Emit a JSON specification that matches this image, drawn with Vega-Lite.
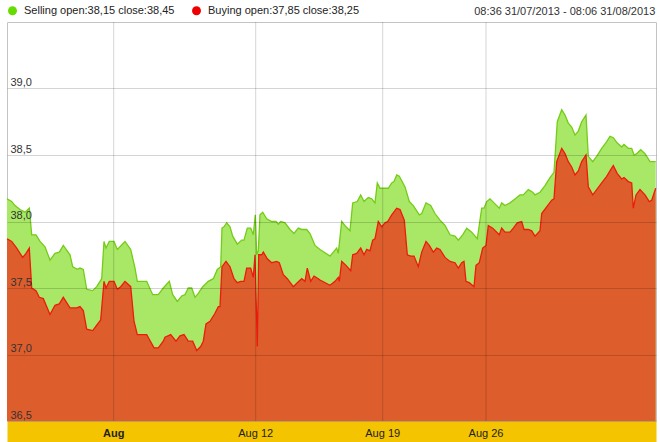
{
  "$schema": "https://vega.github.io/schema/vega-lite/v6.json",
  "width": 649,
  "height": 399,
  "autosize": {"type": "none"},
  "padding": {"left": 7, "top": 22, "right": 4, "bottom": 21},
  "background": "white",
  "config": {
    "view": {"stroke": "#c4c4c4", "strokeWidth": 1, "fill": "white"},
    "font": "Liberation Sans"
  },
  "title": {"text": "08:36 31/07/2013 - 08:06 31/08/2013", "anchor": "end", "orient": "top", "offset": -12, "fontSize": 11, "fontWeight": "normal", "color": "#333333", "font": "Liberation Sans", "dx": -3},
  "datasets": {
    "sell": [
      {"t": 0, "v": 38.17}, {"t": 4.7, "v": 38.15}, {"t": 8, "v": 38.12}, {"t": 13, "v": 38.09}, {"t": 18, "v": 38.07}, {"t": 22.3, "v": 38.10}, {"t": 24.7, "v": 37.90}, {"t": 29, "v": 37.90}, {"t": 33, "v": 37.85}, {"t": 38, "v": 37.81}, {"t": 43, "v": 37.71}, {"t": 48, "v": 37.76}, {"t": 52.3, "v": 37.77}, {"t": 56.3, "v": 37.82}, {"t": 63, "v": 37.75}, {"t": 65.7, "v": 37.66}, {"t": 70.3, "v": 37.64}, {"t": 73, "v": 37.65}, {"t": 76.3, "v": 37.64}, {"t": 79.7, "v": 37.49}, {"t": 85.7, "v": 37.48}, {"t": 89.7, "v": 37.51}, {"t": 94.7, "v": 37.57}, {"t": 97, "v": 37.85}, {"t": 99, "v": 37.80}, {"t": 102.3, "v": 37.85}, {"t": 107, "v": 37.85}, {"t": 110.3, "v": 37.79}, {"t": 113, "v": 37.81}, {"t": 118, "v": 37.85}, {"t": 123.7, "v": 37.79}, {"t": 128, "v": 37.65}, {"t": 130.3, "v": 37.55}, {"t": 139.7, "v": 37.55}, {"t": 145.7, "v": 37.45}, {"t": 151.3, "v": 37.45}, {"t": 156.3, "v": 37.50}, {"t": 162.3, "v": 37.55}, {"t": 165.7, "v": 37.45}, {"t": 170.3, "v": 37.40}, {"t": 174.7, "v": 37.44}, {"t": 178, "v": 37.45}, {"t": 181.3, "v": 37.50}, {"t": 184.7, "v": 37.50}, {"t": 188, "v": 37.43}, {"t": 191.3, "v": 37.46}, {"t": 195.7, "v": 37.51}, {"t": 201.3, "v": 37.55}, {"t": 206.3, "v": 37.57}, {"t": 210.3, "v": 37.64}, {"t": 213.7, "v": 37.66}, {"t": 215, "v": 37.95}, {"t": 217, "v": 37.96}, {"t": 219.7, "v": 37.99}, {"t": 223, "v": 37.96}, {"t": 225.7, "v": 37.89}, {"t": 230.3, "v": 37.83}, {"t": 234.7, "v": 37.86}, {"t": 237, "v": 37.86}, {"t": 240.3, "v": 37.95}, {"t": 243.7, "v": 37.95}, {"t": 246.3, "v": 37.90}, {"t": 248.3, "v": 38.05}, {"t": 249.7, "v": 37.75}, {"t": 251.3, "v": 37.78}, {"t": 253, "v": 38.05}, {"t": 255.7, "v": 38.07}, {"t": 259.7, "v": 38.02}, {"t": 264.7, "v": 38.00}, {"t": 269, "v": 38.00}, {"t": 271.3, "v": 37.98}, {"t": 273.7, "v": 38.00}, {"t": 278, "v": 37.99}, {"t": 283, "v": 37.94}, {"t": 287, "v": 37.91}, {"t": 291.3, "v": 37.95}, {"t": 294.7, "v": 37.94}, {"t": 299.7, "v": 37.94}, {"t": 303, "v": 37.91}, {"t": 308, "v": 37.82}, {"t": 313, "v": 37.79}, {"t": 323, "v": 37.74}, {"t": 329.7, "v": 37.80}, {"t": 331.3, "v": 37.76}, {"t": 334.7, "v": 38.00}, {"t": 339, "v": 37.96}, {"t": 343, "v": 37.93}, {"t": 345.7, "v": 38.14}, {"t": 350.3, "v": 38.15}, {"t": 353.7, "v": 38.20}, {"t": 357, "v": 38.15}, {"t": 361.3, "v": 38.18}, {"t": 364.7, "v": 38.17}, {"t": 368, "v": 38.14}, {"t": 370.3, "v": 38.29}, {"t": 373, "v": 38.25}, {"t": 381.3, "v": 38.25}, {"t": 384.7, "v": 38.29}, {"t": 387, "v": 38.30}, {"t": 389.7, "v": 38.35}, {"t": 392.3, "v": 38.34}, {"t": 398, "v": 38.26}, {"t": 402.3, "v": 38.15}, {"t": 406.3, "v": 38.12}, {"t": 412.3, "v": 38.05}, {"t": 414.7, "v": 38.06}, {"t": 419, "v": 38.14}, {"t": 423.7, "v": 38.12}, {"t": 428, "v": 38.06}, {"t": 433, "v": 38.01}, {"t": 438, "v": 37.97}, {"t": 443, "v": 37.90}, {"t": 448, "v": 37.89}, {"t": 451.3, "v": 37.86}, {"t": 455.7, "v": 37.90}, {"t": 459.7, "v": 37.95}, {"t": 464.7, "v": 37.92}, {"t": 470.3, "v": 37.87}, {"t": 474.7, "v": 38.10}, {"t": 477, "v": 38.10}, {"t": 479.7, "v": 38.15}, {"t": 483, "v": 38.17}, {"t": 487, "v": 38.14}, {"t": 492.3, "v": 38.10}, {"t": 494.7, "v": 38.14}, {"t": 498, "v": 38.12}, {"t": 503, "v": 38.14}, {"t": 508, "v": 38.17}, {"t": 513, "v": 38.20}, {"t": 516.3, "v": 38.20}, {"t": 521.3, "v": 38.24}, {"t": 525.7, "v": 38.22}, {"t": 528, "v": 38.20}, {"t": 533, "v": 38.22}, {"t": 538, "v": 38.27}, {"t": 543, "v": 38.33}, {"t": 547, "v": 38.37}, {"t": 550.3, "v": 38.75}, {"t": 554.7, "v": 38.84}, {"t": 558, "v": 38.80}, {"t": 561.3, "v": 38.74}, {"t": 564.7, "v": 38.71}, {"t": 568, "v": 38.65}, {"t": 571.3, "v": 38.68}, {"t": 574.7, "v": 38.75}, {"t": 579, "v": 38.80}, {"t": 581.3, "v": 38.49}, {"t": 585.7, "v": 38.45}, {"t": 589.7, "v": 38.49}, {"t": 594.7, "v": 38.55}, {"t": 599.7, "v": 38.60}, {"t": 603, "v": 38.64}, {"t": 606.3, "v": 38.63}, {"t": 610.3, "v": 38.59}, {"t": 614.7, "v": 38.56}, {"t": 617, "v": 38.58}, {"t": 621.3, "v": 38.55}, {"t": 624.7, "v": 38.55}, {"t": 627, "v": 38.50}, {"t": 629.7, "v": 38.51}, {"t": 633.7, "v": 38.54}, {"t": 638, "v": 38.51}, {"t": 643, "v": 38.45}, {"t": 648.7, "v": 38.45}
    ],
    "buy": [
      {"t": 0, "v": 37.87}, {"t": 4.7, "v": 37.85}, {"t": 9.7, "v": 37.80}, {"t": 15.7, "v": 37.73}, {"t": 19, "v": 37.76}, {"t": 22.3, "v": 37.80}, {"t": 24.7, "v": 37.50}, {"t": 29, "v": 37.48}, {"t": 32.3, "v": 37.43}, {"t": 36.3, "v": 37.42}, {"t": 43, "v": 37.30}, {"t": 48, "v": 37.37}, {"t": 52.3, "v": 37.38}, {"t": 56.3, "v": 37.43}, {"t": 63, "v": 37.35}, {"t": 69.7, "v": 37.35}, {"t": 73, "v": 37.36}, {"t": 76.3, "v": 37.33}, {"t": 79.7, "v": 37.19}, {"t": 85.7, "v": 37.18}, {"t": 89.7, "v": 37.22}, {"t": 93.7, "v": 37.26}, {"t": 97, "v": 37.55}, {"t": 99, "v": 37.50}, {"t": 102.3, "v": 37.55}, {"t": 107, "v": 37.55}, {"t": 110.3, "v": 37.49}, {"t": 113.7, "v": 37.51}, {"t": 118, "v": 37.55}, {"t": 123.7, "v": 37.51}, {"t": 127, "v": 37.25}, {"t": 130.3, "v": 37.15}, {"t": 139.7, "v": 37.15}, {"t": 147, "v": 37.05}, {"t": 151.3, "v": 37.05}, {"t": 156.3, "v": 37.10}, {"t": 158, "v": 37.13}, {"t": 163.7, "v": 37.15}, {"t": 169, "v": 37.10}, {"t": 173, "v": 37.14}, {"t": 177, "v": 37.15}, {"t": 181.3, "v": 37.10}, {"t": 185.7, "v": 37.10}, {"t": 189.7, "v": 37.03}, {"t": 193.7, "v": 37.06}, {"t": 196.3, "v": 37.10}, {"t": 199, "v": 37.23}, {"t": 203, "v": 37.25}, {"t": 208, "v": 37.31}, {"t": 211.3, "v": 37.36}, {"t": 213, "v": 37.36}, {"t": 215, "v": 37.66}, {"t": 219, "v": 37.70}, {"t": 223, "v": 37.66}, {"t": 227, "v": 37.57}, {"t": 230.3, "v": 37.54}, {"t": 233.7, "v": 37.55}, {"t": 237, "v": 37.55}, {"t": 239.7, "v": 37.65}, {"t": 243.7, "v": 37.65}, {"t": 246.3, "v": 37.58}, {"t": 248, "v": 37.75}, {"t": 250.3, "v": 37.06}, {"t": 251.7, "v": 37.75}, {"t": 254.7, "v": 37.75}, {"t": 256.3, "v": 37.77}, {"t": 260.3, "v": 37.72}, {"t": 264.7, "v": 37.69}, {"t": 269.7, "v": 37.70}, {"t": 272.3, "v": 37.69}, {"t": 276.3, "v": 37.60}, {"t": 280.3, "v": 37.57}, {"t": 286.3, "v": 37.51}, {"t": 290.3, "v": 37.54}, {"t": 294.7, "v": 37.57}, {"t": 298, "v": 37.55}, {"t": 300.3, "v": 37.65}, {"t": 303.7, "v": 37.55}, {"t": 307, "v": 37.59}, {"t": 311.3, "v": 37.57}, {"t": 313, "v": 37.56}, {"t": 323, "v": 37.52}, {"t": 328, "v": 37.55}, {"t": 331.3, "v": 37.58}, {"t": 332.3, "v": 37.55}, {"t": 334.7, "v": 37.70}, {"t": 339, "v": 37.67}, {"t": 343.7, "v": 37.63}, {"t": 345.7, "v": 37.75}, {"t": 349.7, "v": 37.76}, {"t": 353.7, "v": 37.80}, {"t": 357, "v": 37.75}, {"t": 359.7, "v": 37.79}, {"t": 363, "v": 37.78}, {"t": 365.7, "v": 37.86}, {"t": 368, "v": 37.87}, {"t": 371.3, "v": 38.00}, {"t": 374.7, "v": 37.96}, {"t": 378, "v": 37.99}, {"t": 380.7, "v": 38.00}, {"t": 384.7, "v": 38.05}, {"t": 389.7, "v": 38.10}, {"t": 393, "v": 38.09}, {"t": 397.3, "v": 38.01}, {"t": 400.3, "v": 37.75}, {"t": 403.7, "v": 37.74}, {"t": 407, "v": 37.74}, {"t": 411.3, "v": 37.66}, {"t": 414.7, "v": 37.77}, {"t": 419, "v": 37.85}, {"t": 422.3, "v": 37.82}, {"t": 426.3, "v": 37.77}, {"t": 429.7, "v": 37.80}, {"t": 433, "v": 37.79}, {"t": 438, "v": 37.73}, {"t": 443, "v": 37.70}, {"t": 448, "v": 37.69}, {"t": 451.3, "v": 37.65}, {"t": 454.7, "v": 37.69}, {"t": 457, "v": 37.70}, {"t": 459, "v": 37.55}, {"t": 462.3, "v": 37.54}, {"t": 467, "v": 37.51}, {"t": 469, "v": 37.67}, {"t": 472.3, "v": 37.69}, {"t": 475.7, "v": 37.80}, {"t": 479, "v": 37.82}, {"t": 481.3, "v": 37.97}, {"t": 485.7, "v": 37.95}, {"t": 492.3, "v": 37.90}, {"t": 494.7, "v": 37.95}, {"t": 498, "v": 37.92}, {"t": 503, "v": 37.92}, {"t": 506.3, "v": 37.95}, {"t": 510.3, "v": 37.99}, {"t": 514.7, "v": 38.00}, {"t": 517, "v": 37.94}, {"t": 521.3, "v": 37.94}, {"t": 524.7, "v": 37.93}, {"t": 528, "v": 37.89}, {"t": 533, "v": 37.93}, {"t": 534.7, "v": 38.06}, {"t": 539.7, "v": 38.11}, {"t": 544.7, "v": 38.16}, {"t": 547, "v": 38.17}, {"t": 549.7, "v": 38.45}, {"t": 554.7, "v": 38.55}, {"t": 558, "v": 38.51}, {"t": 561.3, "v": 38.45}, {"t": 564.7, "v": 38.41}, {"t": 568, "v": 38.35}, {"t": 571.3, "v": 38.38}, {"t": 574.7, "v": 38.45}, {"t": 579, "v": 38.50}, {"t": 581.3, "v": 38.26}, {"t": 585.7, "v": 38.20}, {"t": 589.7, "v": 38.24}, {"t": 594.7, "v": 38.29}, {"t": 599.7, "v": 38.34}, {"t": 603.7, "v": 38.39}, {"t": 606.3, "v": 38.42}, {"t": 610.3, "v": 38.36}, {"t": 614.7, "v": 38.32}, {"t": 617, "v": 38.33}, {"t": 621.3, "v": 38.30}, {"t": 624.7, "v": 38.29}, {"t": 626.3, "v": 38.10}, {"t": 629, "v": 38.20}, {"t": 633, "v": 38.24}, {"t": 638, "v": 38.20}, {"t": 642.3, "v": 38.15}, {"t": 644.7, "v": 38.16}, {"t": 648.7, "v": 38.25}
    ],
    "ticks": [
      {"t": 106.7, "label": "Aug"}, {"t": 248.7, "label": "Aug 12"}, {"t": 375.7, "label": "Aug 19"}, {"t": 479, "label": "Aug 26"}
    ]
  },
  "encoding": {
    "x": {
      "field": "t", "type": "quantitative",
      "scale": {"domain": [0, 649], "nice": false, "zero": false},
      "axis": {
        "values": [106.7, 248.7, 375.7, 479],
        "title": null, "domain": true, "domainColor": "#f5c400", "domainWidth": 21, "offset": 10.5,
        "ticks": false, "tickSize": 0, "labels": false,
        "grid": false, "zindex": 0
      }
    }
  },
  "layer": [
    {
      "data": {"name": "sell"},
      "mark": {"type": "area", "color": "#a9e866", "opacity": 1, "line": {"color": "#74cc18", "strokeWidth": 1.3}, "interpolate": "linear"},
      "encoding": {
        "y": {
          "field": "v", "type": "quantitative",
          "scale": {"domain": [36.5, 39.5], "nice": false, "zero": false},
          "axis": {
            "values": [36.5, 37, 37.5, 38, 38.5, 39],
            "labelExpr": "replace(format(datum.value, '.1f'), '.', ',')",
            "title": null, "domain": false, "ticks": false, "tickSize": 0,
            "labelAlign": "left", "labelBaseline": "alphabetic", "labelPadding": -3, "labelOffset": -3,
            "labelFontSize": 11, "labelColor": "#333333", "labelFont": "Liberation Sans",
            "labelFlush": false, "labelOverlap": false,
            "grid": true, "gridColor": "#000000", "gridOpacity": 0.17, "zindex": 1
          }
        },
        "y2": {"datum": 36.5}
      }
    },
    {
      "data": {"name": "buy"},
      "mark": {"type": "area", "color": "#dd5e2c", "opacity": 1, "line": {"color": "#ee1a0e", "strokeWidth": 1.3}, "interpolate": "linear"},
      "encoding": {"y": {"field": "v", "type": "quantitative"}, "y2": {"datum": 36.5}}
    },
    {
      "data": {"name": "ticks"},
      "mark": {"type": "rule", "color": "#000000", "opacity": 0.17, "strokeWidth": 1},
      "encoding": {"y": {"datum": 39.5}, "y2": {"datum": 36.5}}
    },
    {
      "data": {"name": "ticks"},
      "transform": [{"filter": "datum.label == 'Aug'"}],
      "mark": {"type": "text", "fontSize": 11, "fontWeight": "bold", "color": "#222222", "font": "Liberation Sans", "baseline": "alphabetic", "align": "center"},
      "encoding": {"y": {"datum": 36.38}, "text": {"field": "label"}}
    },
    {
      "data": {"name": "ticks"},
      "transform": [{"filter": "datum.label != 'Aug'"}],
      "mark": {"type": "text", "fontSize": 11, "fontWeight": "normal", "color": "#222222", "font": "Liberation Sans", "baseline": "alphabetic", "align": "center"},
      "encoding": {"y": {"datum": 36.38}, "text": {"field": "label"}}
    },
    {
      "data": {"values": [{"s": "Selling", "t": 0, "v": 38.15}, {"s": "Buying", "t": 0, "v": 37.85}]},
      "mark": {"type": "point", "opacity": 0, "filled": true},
      "encoding": {
        "y": {"field": "v", "type": "quantitative"},
        "color": {
          "field": "s", "type": "nominal",
          "scale": {"domain": ["Selling", "Buying"], "range": ["#66dd00", "#ee0000"]},
          "legend": {
            "orient": "none", "legendX": 0, "legendY": -17, "direction": "horizontal", "title": null,
            "symbolType": "circle", "symbolSize": 80, "symbolOpacity": 1, "symbolStrokeWidth": 0,
            "labelFontSize": 11, "labelColor": "#222222", "labelFont": "Liberation Sans", "labelOffset": 6,
            "columnPadding": 16, "padding": 0,
            "labelExpr": "datum.label == 'Selling' ? 'Selling open:38,15 close:38,45' : 'Buying open:37,85 close:38,25'",
            "labelLimit": 400
          }
        }
      }
    }
  ]
}
